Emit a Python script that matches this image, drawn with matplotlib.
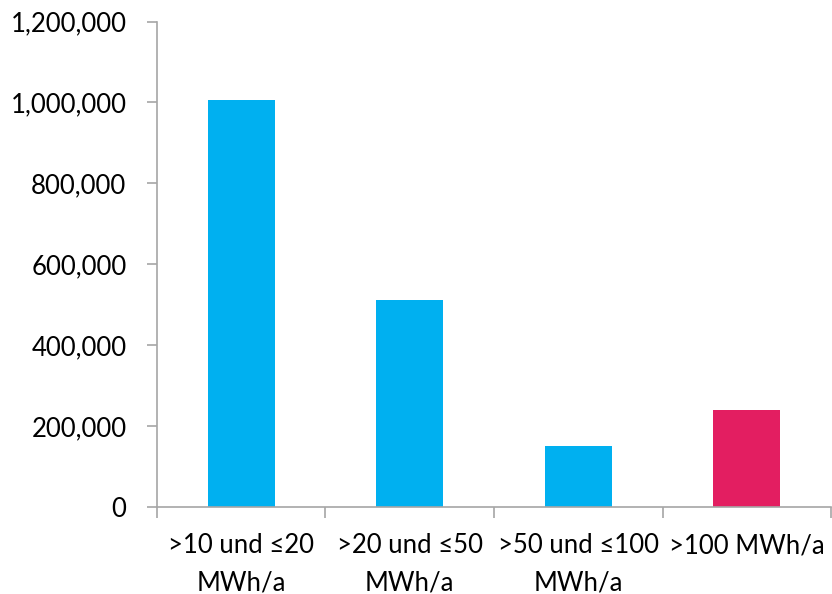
import matplotlib.pyplot as plt
from matplotlib.ticker import FuncFormatter

categories = [">10 und ≤20\nMWh/a", ">20 und ≤50\nMWh/a", ">50 und ≤100\nMWh/a", ">100 MWh/a"]
values = [1005000, 511000, 151000, 240000]
colors = ["#00B0F0", "#00B0F0", "#00B0F0", "#E31E61"]

plt.rcParams["font.family"] = ["Lato", "DejaVu Sans"]

fig = plt.figure(figsize=(8.32, 5.94), dpi=100)
ax = fig.add_axes([0.1887, 0.1465, 0.8101, 0.8173])

x = list(range(len(categories)))
ax.bar(x, values, width=0.4, color=colors)

ax.set_xlim(-0.5, len(categories) - 0.5)
ax.set_ylim(0, 1200000)
ax.set_yticks(range(0, 1200001, 200000))
ax.yaxis.set_major_formatter(FuncFormatter(lambda v, _: f"{int(v):,}"))

# boundary ticks between categories, labels sit on minor ticks at the centres
ax.set_xticks([i - 0.5 for i in range(len(categories) + 1)])
ax.set_xticklabels([])
ax.set_xticks(x, minor=True)
ax.set_xticklabels(categories, minor=True)

gray = "#A6A6A6"
for side in ["top", "right"]:
    ax.spines[side].set_visible(False)
for side in ["left", "bottom"]:
    ax.spines[side].set_color(gray)
    ax.spines[side].set_linewidth(1.2)

ax.tick_params(axis="y", length=7, width=1.2, color=gray, labelsize=18.5, pad=15)
ax.tick_params(axis="x", which="major", length=8, width=1.2, color=gray, direction="out")
ax.tick_params(axis="x", which="minor", length=0, labelsize=18.5, pad=19)
for lbl in ax.get_xticklabels(minor=True):
    lbl.set_linespacing(1.6)

fig.savefig("out.png", dpi=100)
